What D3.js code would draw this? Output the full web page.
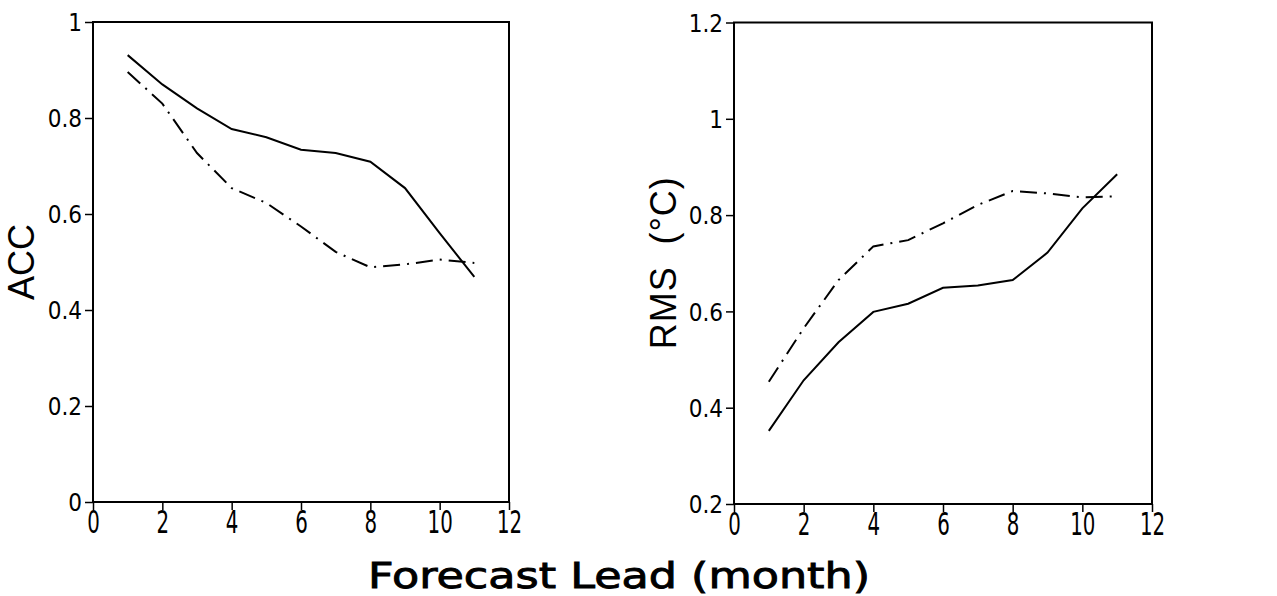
<!DOCTYPE html>
<html><head><meta charset="utf-8">
<script src="https://cdn.jsdelivr.net/npm/d3@7"></script>
<style>
body{margin:0;background:#fff;}
svg{display:block;}
.tick text{font-family:"Liberation Sans Narrow","DejaVu Sans Condensed",sans-serif;fill:#000;}
</style></head>
<body>
<svg id="c" width="1277" height="596"></svg>
<script>
const leads = [1,2,3,4,5,6,7,8,9,10,11];
const accSolid = [0.931,0.870,0.820,0.777,0.760,0.734,0.727,0.709,0.654,0.560,0.469];
const accDashDot = [0.896,0.830,0.727,0.654,0.623,0.574,0.521,0.489,0.495,0.505,0.498];
const rmsSolid = [0.352,0.457,0.536,0.599,0.616,0.649,0.654,0.665,0.722,0.814,0.885];
const rmsDashDot = [0.454,0.565,0.665,0.735,0.748,0.783,0.821,0.850,0.845,0.837,0.839];
const xTicks = [0,2,4,6,8,10,12];
const accTicks = [0,0.2,0.4,0.6,0.8,1];
const rmsTicks = [0.2,0.4,0.6,0.8,1,1.2];
const xTitle = "Forecast Lead (month)";
const accTitle = "ACC";
const rmsTitle = "RMS\u00a0\u00a0(°C)";

const svg = d3.select("#c");

function panel(box, yDomain, yTicks, solid, dashdot, title, titleX, titleLen){
  const x = d3.scaleLinear().domain([0,12]).range([box.x0, box.x1]);
  const y = d3.scaleLinear().domain(yDomain).range([box.y1, box.y0]);
  const g = svg.append("g");
  g.append("rect").attr("x",box.x0).attr("y",box.y0)
    .attr("width",box.x1-box.x0).attr("height",box.y1-box.y0)
    .attr("fill","none").attr("stroke","#000").attr("stroke-width",2);
  const ya = g.append("g").attr("transform",`translate(${box.x0},0)`)
    .call(d3.axisLeft(y).tickValues(yTicks).tickSize(8).tickPadding(3).tickFormat(d=>String(+d.toFixed(1))));
  ya.select(".domain").remove();
  ya.selectAll(".tick line").attr("stroke","#000").attr("stroke-width",1.5);
  ya.selectAll(".tick text").attr("font-size",24).attr("dy","0.36em");
  const xa = g.append("g").attr("transform",`translate(0,${box.y1})`)
    .call(d3.axisBottom(x).tickValues(xTicks).tickSize(8).tickFormat(d3.format("d")));
  xa.select(".domain").remove();
  xa.selectAll(".tick line").attr("stroke","#000").attr("stroke-width",1.5);
  xa.selectAll(".tick text").attr("font-size",22).attr("y",0).attr("dy",0)
    .attr("transform","scale(1,1.45) translate(0,21.5)");
  const line = (vals)=> d3.line().x((d,i)=>x(leads[i])).y(d=>y(d))(vals);
  g.append("path").attr("d",line(solid)).attr("fill","none").attr("stroke","#000").attr("stroke-width",2);
  g.append("path").attr("d",line(dashdot)).attr("fill","none").attr("stroke","#000").attr("stroke-width",2)
    .attr("stroke-dasharray","17,7,2,7");
  const t = svg.append("text").attr("transform",`translate(${titleX},${(box.y0+box.y1)/2}) rotate(-90)`)
    .attr("text-anchor","middle").attr("font-family","Liberation Sans, Arial, sans-serif")
    .attr("font-size",36).attr("fill","#000").text(title);
  if (titleLen) t.attr("textLength",titleLen).attr("lengthAdjust","spacing");
}

panel({x0:93,x1:509,y0:22,y1:502},[0,1],accTicks,accSolid,accDashDot,accTitle,34,0);
panel({x0:734,x1:1152,y0:22.5,y1:504},[0.2,1.2],rmsTicks,rmsSolid,rmsDashDot,rmsTitle,676,172);

svg.append("text").attr("x",619).attr("y",588).attr("text-anchor","middle")
  .attr("font-family","DejaVu Sans, sans-serif").attr("font-size",36)
  .attr("stroke","#000").attr("stroke-width",0.9)
  .attr("textLength",502).attr("lengthAdjust","spacingAndGlyphs")
  .attr("fill","#000").text(xTitle);
</script>
</body></html>
